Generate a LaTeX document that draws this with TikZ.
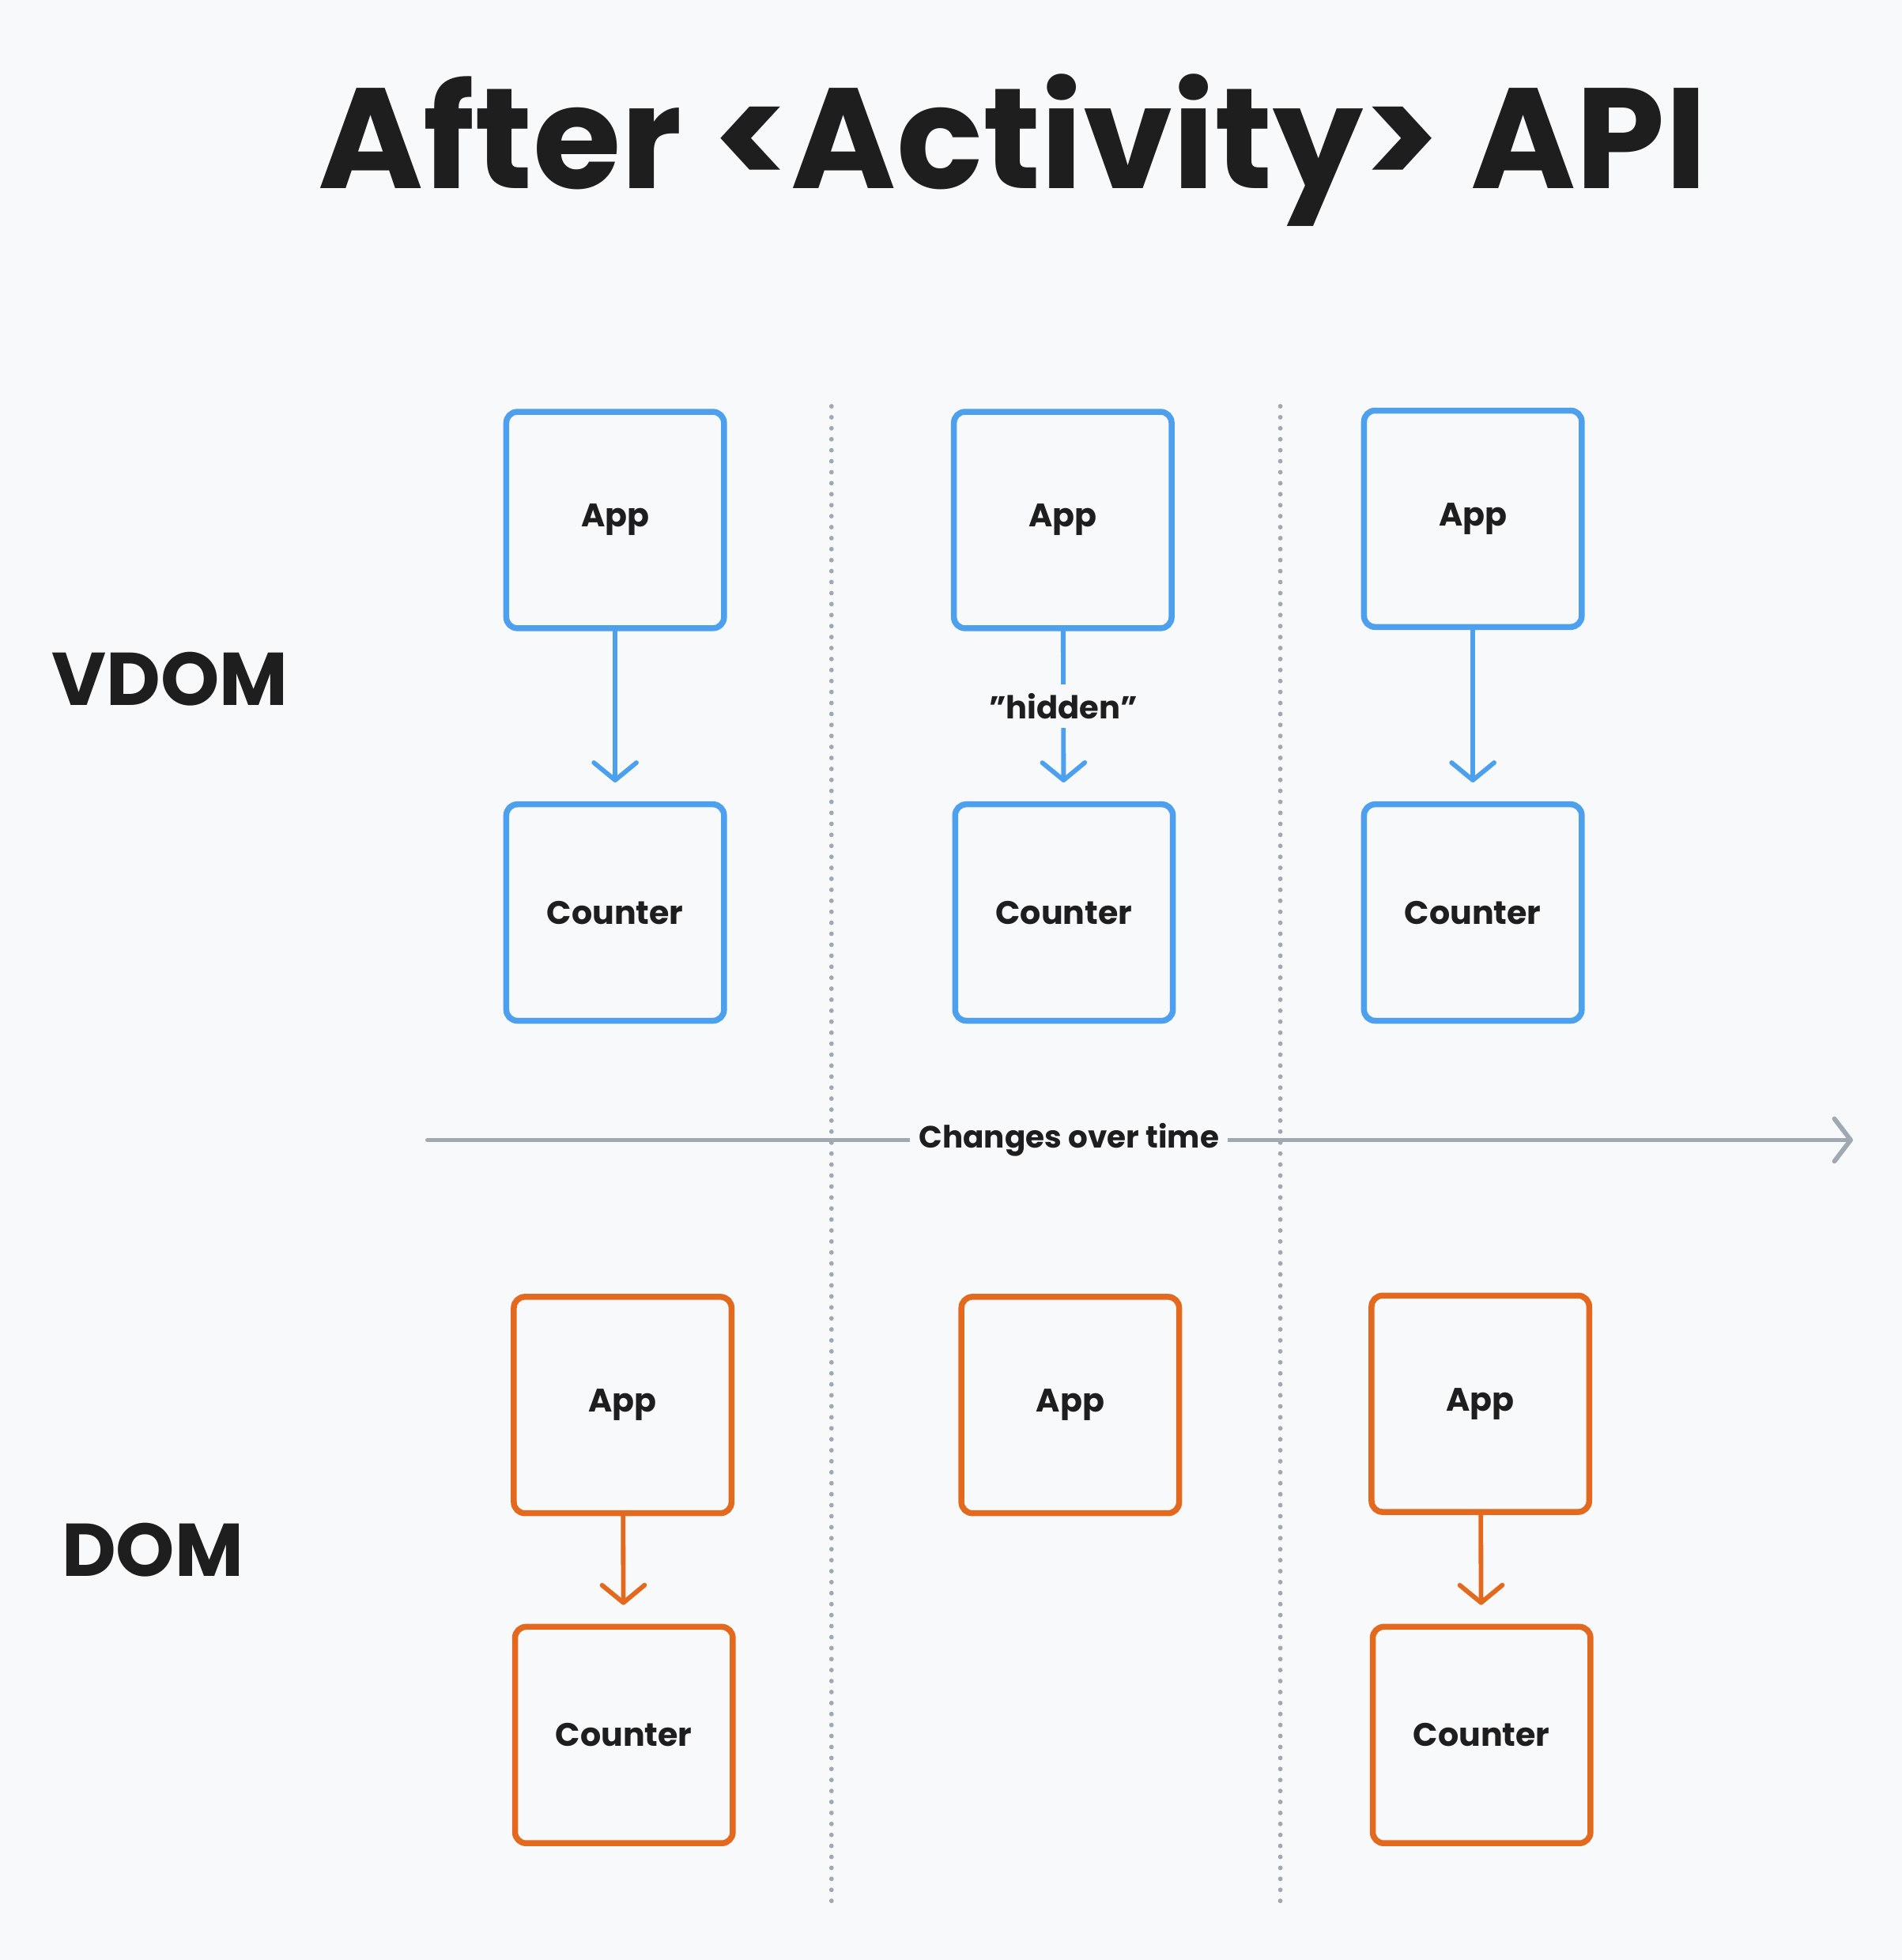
\documentclass[tikz,border=0pt]{standalone}
\usepackage{fontspec}
\setmainfont{Poppins}
\usetikzlibrary{arrows.meta}
\definecolor{bgcol}{HTML}{F8F9FA}
\definecolor{ink}{HTML}{1E1E1E}
\definecolor{vblue}{HTML}{4DA0EE}
\definecolor{dorange}{HTML}{E2691E}
\definecolor{lgray}{HTML}{A0A8B2}
\begin{document}
\begin{tikzpicture}[x=0.01cm, y=-0.01cm, line join=round, line cap=round,
        every node/.style={text=ink, font=\bfseries},
        box/.style={draw, rounded corners=2.5pt, line width=1.35pt, minimum width=1.74cm,
            minimum height=1.73cm, fill=bgcol, font=\fontsize{7.4}{9}\selectfont\bfseries},
        vbox/.style={box, draw=vblue},
        dbox/.style={box, draw=dorange},
        link/.style={line width=1.05pt, shorten >=4.3pt,
            -{Straight Barb[length=1.4mm, width=3.4mm, line width=1.05pt, round]}}]
        \useasboundingbox[fill=bgcol] (0,0) rectangle (1521,1568);
        
        %   title and row labels
        \node (title) at (810,120) {\fontsize{32.5}{36}\selectfont After <Activity> API};
        \node (vdom) at (136,543) {\fontsize{17}{20}\selectfont VDOM};
        \node (dom) at (122,1240) {\fontsize{17}{20}\selectfont DOM};
        
        %   time dividers
        \foreach \x in {665,1024}
        \draw[lgray, line width=1.05pt, dash pattern=on 0pt off 2.5pt] (\x,325)--(\x,1528);
        
        %   time axis
        \coordinate (t0) at (342,912);
        \coordinate (t1) at (1482,912);
        \draw[lgray, line width=1.05pt, -{Straight Barb[length=1.3mm, width=3.4mm, line width=1.05pt, round]}]
        (t0)--(t1);
        \node[fill=bgcol, inner sep=2pt, font=\fontsize{7}{9}\selectfont\bfseries] (time) at (855,912)
        {Changes over time};
        
        %   VDOM row
        \node[vbox] (va1) at (492,416) {App};
        \node[vbox] (vc1) at (492,730) {Counter};
        \node[vbox] (va2) at (850,416) {App};
        \node[vbox] (vc2) at (851,730) {Counter};
        \node[vbox] (va3) at (1178,415) {App};
        \node[vbox] (vc3) at (1178,730) {Counter};
        \foreach \i in {1,3}
        \draw[link, vblue] (va\i) -- (vc\i);
        \draw[link, vblue] (va2) -- node[pos=0.44, fill=bgcol, inner sep=2pt,
            font=\fontsize{7.2}{9}\selectfont\bfseries] (hid) {"hidden"} (vc2);
        
        %   DOM row
        \node[dbox] (da1) at (498,1124) {App};
        \node[dbox] (dc1) at (499,1388) {Counter};
        \node[dbox] (da2) at (856,1124) {App};
        \node[dbox] (da3) at (1184,1123) {App};
        \node[dbox] (dc3) at (1185,1388) {Counter};
        \foreach \i in {1,3}
        \draw[link, dorange] (da\i) -- (dc\i);
\end{tikzpicture}
\end{document}
